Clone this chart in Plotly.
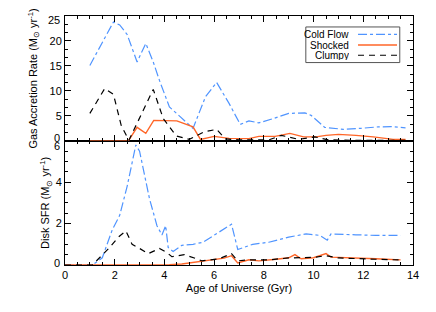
import plotly.graph_objects as go

# ---------------- data ----------------
# Top panel: gas accretion rate (Msun/yr)
cold_top_x = [1.0, 1.95, 2.2, 2.5, 2.9, 3.25, 3.55, 3.8, 4.2, 4.65, 5.15, 5.65, 6.1, 6.6, 7.05, 7.4, 7.8, 8.4, 9.0, 9.65, 9.9, 10.45, 11.2, 11.9, 12.6, 13.1, 13.7]
cold_top_y = [15.1, 23.8, 23.2, 21.3, 15.8, 19.5, 15.8, 12.1, 6.8, 4.8, 2.5, 8.8, 11.7, 7.5, 3.3, 4.0, 3.6, 4.5, 5.5, 5.6, 5.1, 2.7, 2.3, 2.5, 2.8, 2.85, 2.6]

shock_top_x = [1.0, 2.55, 2.9, 3.25, 3.57, 4.5, 5.15, 5.45, 6.0, 6.6, 7.4, 7.8, 8.45, 9.05, 9.6, 10.1, 10.5, 11.0, 11.7, 12.4, 13.2, 13.7]
shock_top_y = [0.0, 0.0, 2.7, 1.5, 4.1, 4.0, 2.8, 0.3, 0.9, 0.5, 0.45, 0.9, 0.9, 1.5, 0.8, 0.8, 1.1, 1.3, 1.1, 0.8, 0.3, 0.3]

clump_top_x = [1.0, 1.6, 1.95, 2.26, 2.57, 3.55, 3.95, 4.47, 5.0, 5.6, 6.1, 6.45, 7.0, 8.2, 8.7, 9.4, 10.05, 10.6, 11.5, 12.5, 13.7]
clump_top_y = [5.5, 10.5, 9.3, 3.1, 0.1, 10.3, 4.5, 1.0, 0.3, 1.8, 2.3, 0.4, 0.2, 0.2, 1.1, 0.3, 0.8, 0.2, 0.1, 0.1, 0.1]

# Bottom panel: disk SFR (Msun/yr)
cold_bot_x = [0.0, 1.1, 1.5, 1.9, 2.2, 2.5, 2.85, 3.0, 3.4, 3.7, 3.9, 4.05, 4.15, 4.35, 4.7, 5.15, 5.55, 6.1, 6.7, 6.95, 7.55, 8.2, 9.0, 9.7, 10.25, 10.55, 10.7, 11.7, 12.5, 13.5]
cold_bot_y = [0.0, 0.0, 0.35, 1.7, 2.4, 3.8, 5.8, 5.5, 3.2, 1.9, 1.45, 1.9, 0.85, 0.65, 0.95, 1.0, 1.1, 1.5, 1.97, 0.75, 1.0, 1.1, 1.35, 1.5, 1.43, 1.2, 1.5, 1.46, 1.43, 1.43]

shock_bot_x = [0.0, 3.5, 4.2, 4.7, 5.0, 5.45, 5.95, 6.4, 6.7, 6.95, 7.4, 7.8, 8.5, 9.0, 9.25, 9.5, 10.0, 10.5, 10.7, 11.5, 12.5, 13.5]
shock_bot_y = [0.0, 0.0, 0.02, 0.05, 0.1, 0.15, 0.25, 0.33, 0.45, 0.1, 0.25, 0.2, 0.28, 0.35, 0.5, 0.3, 0.35, 0.55, 0.38, 0.33, 0.3, 0.25]

clump_bot_x = [0.0, 1.1, 1.8, 2.15, 2.45, 2.7, 3.0, 3.35, 3.8, 4.1, 4.3, 4.5, 4.8, 5.3, 5.5, 6.2, 6.7, 6.95, 7.4, 8.2, 9.0, 10.0, 10.5, 11.0, 12.3, 13.5]
clump_bot_y = [0.0, 0.0, 0.85, 1.35, 1.65, 1.0, 0.8, 0.55, 0.8, 0.6, 0.4, 0.45, 0.5, 0.3, 0.2, 0.3, 0.55, 0.2, 0.25, 0.25, 0.34, 0.37, 0.45, 0.34, 0.29, 0.24]

series_names = ["Cold Flow", "Shocked", "Clumpy"]
x_ticks = [0, 2, 4, 6, 8, 10, 12, 14]
top_ticks = [5, 10, 15, 20]
top_edge_ticks = [0, 25]
bot_ticks = [2, 4]
bot_edge_ticks = [0, 6]

# ---------------- style ----------------
BLUE = "#4f94ff"
ORANGE = "#ff6628"
BLACK = "#000000"
FONT = "Liberation Sans, Arial, sans-serif"
FS = 11

fig = go.Figure()

styles = [
    dict(color=BLUE, width=1.2, dash="dashdot"),
    dict(color=ORANGE, width=1.4, dash="solid"),
    dict(color=BLACK, width=1.2, dash="6px,5px"),
]

top_data = [(cold_top_x, cold_top_y), (shock_top_x, shock_top_y), (clump_top_x, clump_top_y)]
bot_data = [(cold_bot_x, cold_bot_y), (shock_bot_x, shock_bot_y), (clump_bot_x, clump_bot_y)]

for name, st, (xx, yy) in zip(series_names, styles, top_data):
    fig.add_trace(go.Scatter(x=xx, y=yy, mode="lines", name=name, line=st,
                             xaxis="x2", yaxis="y2", showlegend=False))
for name, st, (xx, yy) in zip(series_names, styles, bot_data):
    fig.add_trace(go.Scatter(x=xx, y=yy, mode="lines", name=name, line=st,
                             xaxis="x", yaxis="y", showlegend=False))

split = 0.4986
axis_common = dict(showline=True, linecolor="black", linewidth=1, mirror="allticks",
                   ticks="inside", ticklen=6, tickcolor="black", showgrid=False,
                   zeroline=False, automargin=False,
                   tickfont=dict(family=FONT, size=FS, color="black"))

fig.update_layout(
    template="none",
    width=436, height=312,
    margin=dict(l=65, r=23, t=16, b=47),
    paper_bgcolor="white", plot_bgcolor="white",
    font=dict(family=FONT, size=FS, color="black"),
    showlegend=False,
    xaxis=dict(range=[0, 14], tickvals=x_ticks, ticktext=[str(v) for v in x_ticks],
               minor=dict(dtick=0.5, ticks="inside", ticklen=3, tickcolor="black"),
               title=dict(text="Age of Universe (Gyr)", font=dict(family=FONT, size=FS), standoff=4),
               anchor="y", **axis_common),
    xaxis2=dict(range=[0, 14], matches="x", tickvals=x_ticks, showticklabels=False,
                minor=dict(dtick=0.5, ticks="inside", ticklen=3, tickcolor="black"),
                anchor="y2", **axis_common),
    yaxis=dict(range=[0, 6], domain=[0, split], tickvals=bot_ticks,
               ticktext=[str(v) for v in bot_ticks],
               minor=dict(dtick=0.5, ticks="inside", ticklen=3, tickcolor="black"),
               title=dict(text="Disk SFR (M<sub>\u2299</sub> yr<sup>-1</sup>)",
                          font=dict(family=FONT, size=FS), standoff=3),
               anchor="x", **axis_common),
    yaxis2=dict(range=[0, 25], domain=[split, 1], tickvals=top_ticks,
                ticktext=[str(v) for v in top_ticks],
                minor=dict(dtick=5 / 3, ticks="inside", ticklen=3, tickcolor="black"),
                title=dict(text="Gas Accretion Rate (M<sub>\u2299</sub> yr<sup>-1</sup>)",
                           font=dict(family=FONT, size=FS), standoff=9),
                anchor="x2", **axis_common),
)

# edge tick labels pulled inward, as in the reference
annots = []
for v, sh in zip(top_edge_ticks, [3, -4]):
    annots.append(dict(x=0, xref="paper", y=v, yref="y2", text=str(v), showarrow=False,
                       xanchor="right", xshift=-3, yshift=sh,
                       font=dict(family=FONT, size=FS, color="black")))
for v, sh in zip(bot_edge_ticks, [2, -5]):
    annots.append(dict(x=0, xref="paper", y=v, yref="y", text=str(v), showarrow=False,
                       xanchor="right", xshift=-3, yshift=sh,
                       font=dict(family=FONT, size=FS, color="black")))

# legend box: text on the left, line sample on the right (IDL style)
leg_box = dict(x0=0.692, x1=0.962, y0=0.813, y1=0.956)
leg_text_right = 0.823
leg_line = (0.842, 0.954)
leg_rows = [0.9266, 0.8837, 0.8424]
shapes = [dict(type="rect", xref="paper", yref="paper", line=dict(color="#555555", width=1),
               fillcolor="white", layer="above", **leg_box)]
for name, st, yr in zip(series_names, styles, leg_rows):
    annots.append(dict(x=leg_text_right, xref="paper", y=yr, yref="paper", text=name,
                       showarrow=False, xanchor="right", yanchor="middle", height=10,
                       font=dict(family=FONT, size=10, color="black")))
    shapes.append(dict(type="line", xref="paper", yref="paper", x0=leg_line[0], x1=leg_line[1],
                       y0=yr, y1=yr, layer="above",
                       line=dict(color=st["color"], width=st["width"], dash=st["dash"])))

fig.update_layout(annotations=annots, shapes=shapes)

fig.write_html("out.html", config={"displayModeBar": False},
               post_script="document.body.style.margin='0';document.body.style.padding='0';")
